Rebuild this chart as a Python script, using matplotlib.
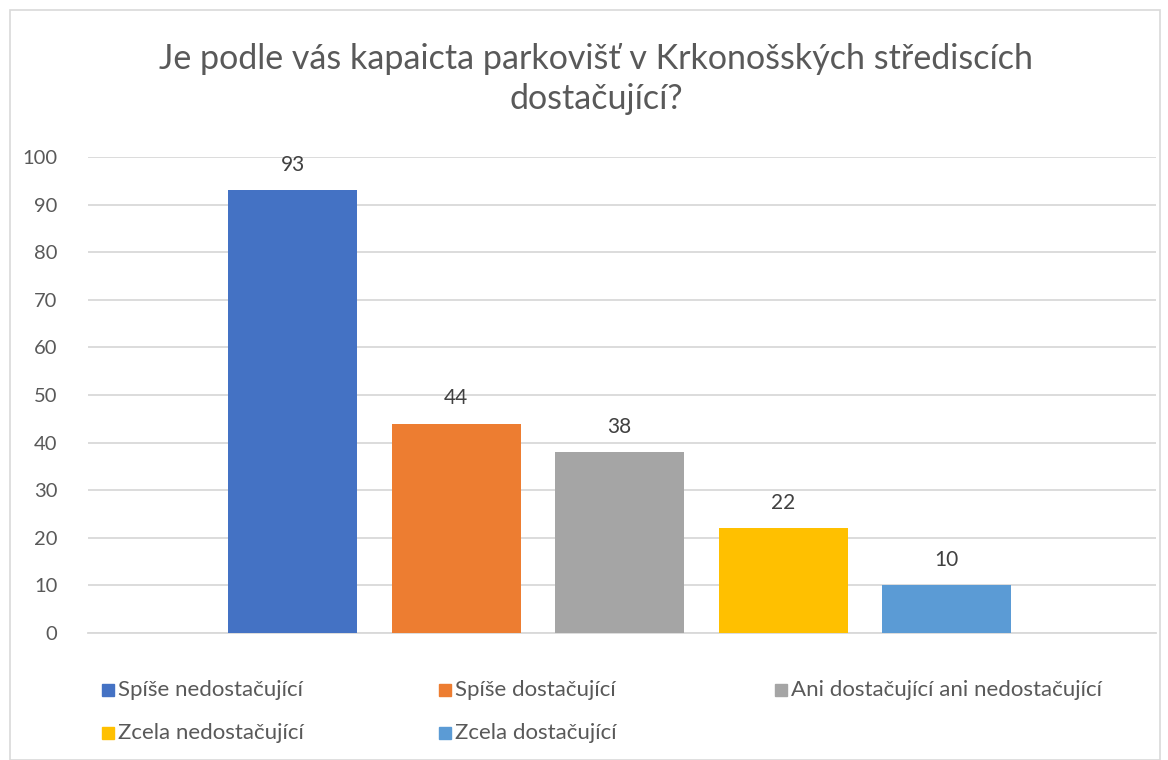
import matplotlib.pyplot as plt
from matplotlib.patches import Rectangle
import numpy as np

plt.rcParams["font.family"] = ["Lato", "DejaVu Sans"]

# data
title = "Je podle vás kapaicta parkovišť v Krkonošských střediscích\ndostačující?"
labels = [
    "Spíše nedostačující",
    "Spíše dostačující",
    "Ani dostačující ani nedostačující",
    "Zcela nedostačující",
    "Zcela dostačující",
]
values = [93, 44, 38, 22, 10]
colors = ["#4472C4", "#ED7D31", "#A5A5A5", "#FFC000", "#5B9BD5"]
yticks = [0, 10, 20, 30, 40, 50, 60, 70, 80, 90, 100]

text_col = "#595959"
grid_col = "#D9D9D9"

fig = plt.figure(figsize=(11.68, 7.6), dpi=100)
ax = fig.add_axes([88 / 1168, 1 - 633 / 760, (1156 - 88) / 1168, (633 - 157) / 760])

width = 129 / 1068
step = 163.5 / 1068
x = (np.arange(len(values)) - 2) * step - 2.5 / 1068
bars = ax.bar(x, values, width, color=colors, zorder=3)
ax.bar_label(bars, padding=11, fontsize=15, color="#404040")

ax.set_xlim(-0.5, 0.5)
ax.set_ylim(0, 100)
ax.set_yticks(yticks)
ax.set_xticks([])
ax.tick_params(axis="y", length=0, pad=22, labelsize=14.5, labelcolor=text_col)
ax.grid(axis="y", color=grid_col, linewidth=1.3, zorder=0)
for s in ["left", "right", "top"]:
    ax.spines[s].set_visible(False)
ax.spines["bottom"].set_color(grid_col)
ax.spines["bottom"].set_linewidth(1.3)

fig.text(596 / 1168, 1 - 79 / 760, title, ha="center", va="center",
         fontsize=24.5, color=text_col, linespacing=1.3)

# legend
col_x = [103, 440, 776]
row_y = [690, 733]
for i, lab in enumerate(labels):
    cx = col_x[i % 3]
    cy = row_y[i // 3]
    fig.add_artist(Rectangle(((cx - 1) / 1168, 1 - (cy + 6) / 760), 12 / 1168, 12 / 760,
                             transform=fig.transFigure, color=colors[i]))
    fig.text((cx + 15) / 1168, 1 - cy / 760, lab, ha="left", va="center",
             fontsize=16, color=text_col)

# frame
fig.add_artist(Rectangle((10 / 1168, 0.0), 1150 / 1168, 1 - 10 / 760,
                         transform=fig.transFigure, fill=False, edgecolor="#D9D9D9", linewidth=1.2))

fig.savefig("out.png", dpi=100)
